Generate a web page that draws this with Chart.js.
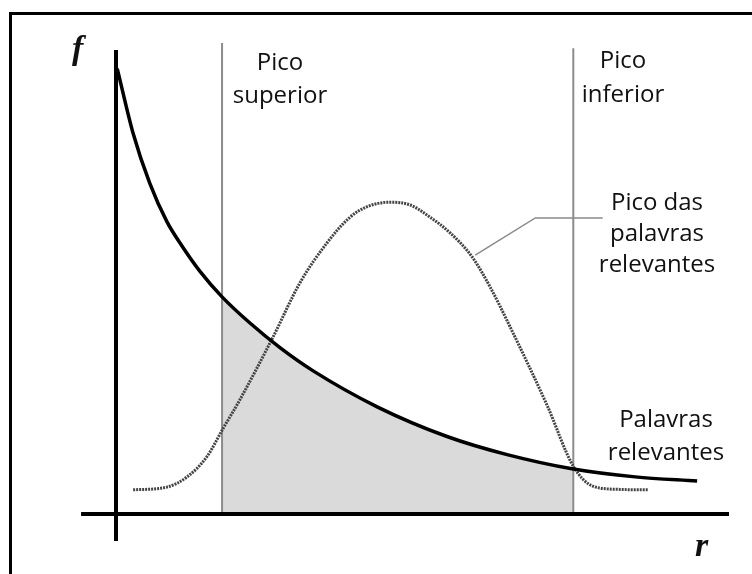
<!DOCTYPE html>
<html>
<head>
<meta charset="utf-8">
<script src="https://cdn.jsdelivr.net/npm/chart.js@4.4.1/dist/chart.umd.min.js"></script>
<style>
  body { margin: 0; background: #fff; }
  #wrap { position: relative; width: 752px; height: 574px; overflow: hidden; }
  #frame { position: absolute; left: 9px; top: 12px; width: 800px; height: 600px;
           border-left: 3px solid #000; border-top: 3px solid #000; }
  canvas { position: absolute; left: 0; top: 0; }
  .lbl { position: absolute; font-family: "Open Sans"; font-size: 24px; color: #111;
         text-align: center; white-space: nowrap; }
  .ax { position: absolute; font-family: "Liberation Serif"; font-style: italic;
        font-weight: bold; font-size: 34px; line-height: 34px; color: #111; }
</style>
</head>
<body>
<div id="wrap">
  <canvas id="myChart" width="752" height="574"></canvas>
  <div id="frame"></div>
  <div class="ax" style="left:72px; top:31px;">f</div>
  <div class="ax" style="left:695px; top:528px;">r</div>
  <div class="lbl" style="left:220px; top:44px; width:120px; line-height:33px;">Pico<br>superior</div>
  <div class="lbl" style="left:563px; top:42px; width:120px; line-height:34px;">Pico<br>inferior</div>
  <div class="lbl" style="left:577px; top:185px; width:160px; line-height:31px;">Pico das<br>palavras<br>relevantes</div>
  <div class="lbl" style="left:586px; top:401px; width:160px; line-height:33px;">Palavras<br>relevantes</div>
</div>
<script>
// curve (r = rank, f = frequency, arbitrary units 0..100)
const zipfR = [0.2, 2.8, 5.5, 8.3, 10.9, 13.7, 17.3, 21.9, 26.8, 32.1, 42.6, 54.0, 63.8, 74.6, 84.7, 94.8];
const zipfF = [96, 82, 71.3, 63, 57.5, 52.3, 46.8, 41.1, 35.8, 30.9, 23.1, 16.7, 12.8, 9.7, 8.0, 7.1];

const bellR = [2.8, 8.3, 11.6, 14.8, 17.5, 20.2, 25.6, 30.0, 34.4, 38.2, 40.9, 44.7, 48.0, 51.2, 54.5, 58.1, 61.0, 64.3, 70.3, 74.6, 77.8, 82.2, 86.8];
const bellF = [5.2, 5.8, 8.0, 12.3, 18.5, 24.6, 38.1, 49.8, 58.4, 64.0, 66.2, 67.2, 66.6, 64.0, 60.6, 55.4, 49.0, 40.3, 23.5, 10.3, 6.0, 5.3, 5.2];

// cut-off ranks (upper / lower) and their line tops
const cutoffR = [17.3, 74.6];
const cutoffTop = [101.5, 100.4];

// leader line of the "Pico das palavras relevantes" label
const leaderR = [58.6, 68.4, 79.4];
const leaderF = [55.8, 63.8, 63.8];

// axis extents
const axisR = [-5.7, 100];
const axisF = [-5.8, 100];

const pts = (xs, ys) => xs.map((x, i) => ({ x: x, y: ys[i] }));

const zipf = pts(zipfR, zipfF);
const shaded = zipf.filter(p => p.x >= cutoffR[0] && p.x <= cutoffR[1]);

const datasets = [
  { data: zipf, borderColor: "#000", borderWidth: 3.5, cubicInterpolationMode: "monotone", order: 1 },
  { data: pts(bellR, bellF), borderColor: "#444", borderWidth: 3, borderDash: [2, 1],
    cubicInterpolationMode: "monotone", order: 2 },
  { data: pts(leaderR, leaderF), borderColor: "#8a8a8a", borderWidth: 1.5, order: 3 },
  { data: [{ x: axisR[0], y: 0 }, { x: axisR[1], y: 0 }], borderColor: "#000", borderWidth: 4, order: 4 },
  { data: [{ x: 0, y: axisF[0] }, { x: 0, y: axisF[1] }], borderColor: "#000", borderWidth: 4, order: 4 },
  { data: shaded, borderWidth: 0, borderColor: "rgba(0,0,0,0)", backgroundColor: "#dadada",
    fill: "origin", cubicInterpolationMode: "monotone", order: 7 }
];
cutoffR.forEach((r, i) => {
  datasets.push({ data: [{ x: r, y: 0 }, { x: r, y: cutoffTop[i] }], borderColor: "#8c8c8c",
    borderWidth: 2, order: 5 });
});
datasets.forEach(d => { d.pointRadius = 0; d.clip = false; d.borderCapStyle = "butt"; });

const config = {
  type: "line",
  data: { datasets: datasets },
  options: {
    responsive: false,
    animation: false,
    layout: { padding: { left: 116, right: 23, top: 50, bottom: 60 } },
    plugins: { legend: { display: false }, tooltip: { enabled: false } },
    scales: {
      x: { type: "linear", min: 0, max: 100, display: false },
      y: { type: "linear", min: 0, max: 100, display: false }
    }
  }
};

const ctx = document.getElementById("myChart");
const myChart = new Chart(ctx, config);
</script>
</body>
</html>
